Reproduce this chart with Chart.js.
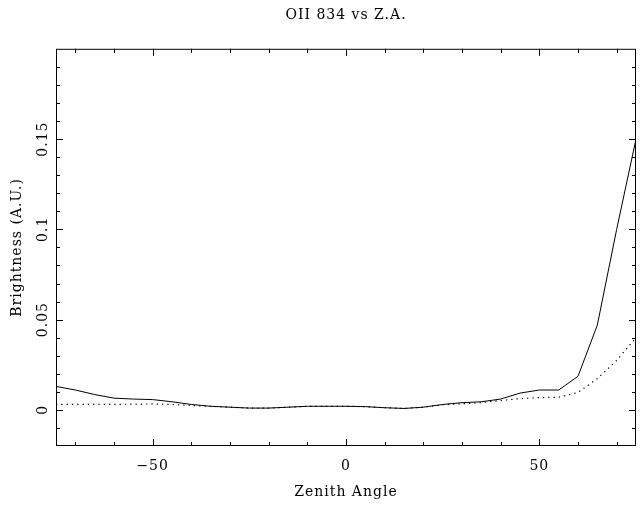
<!DOCTYPE html>
<html>
<head>
<meta charset="utf-8">
<script src="https://cdn.jsdelivr.net/npm/chart.js@4"></script>
<style>
  html, body { margin: 0; padding: 0; background: #fff; }
  #wrap { width: 640px; height: 505px; }
</style>
</head>
<body>
<div id="wrap"><canvas id="chart"></canvas></div>
<script>
const angles = [-75, -70, -65, -60, -55, -50, -45, -40, -35, -30, -25, -20, -15, -10, -5,
    0, 5, 10, 15, 20, 25, 30, 35, 40, 45, 50, 55, 60, 65, 70, 75];

const solid = [0.013, 0.011, 0.0085, 0.0065, 0.006, 0.0057, 0.0045, 0.003, 0.002, 0.0015,
    0.001, 0.001, 0.0015, 0.002, 0.002, 0.002, 0.0018, 0.0012, 0.0008, 0.0015,
    0.003, 0.004, 0.0045, 0.006, 0.0093, 0.011, 0.011, 0.0186, 0.047, 0.1, 0.15];

const dotted = [0.003, 0.003, 0.003, 0.003, 0.0032, 0.0033, 0.003, 0.0025, 0.002, 0.0015,
    0.001, 0.001, 0.0015, 0.002, 0.002, 0.002, 0.0018, 0.0012, 0.0008, 0.0015,
    0.0028, 0.0034, 0.004, 0.0052, 0.0062, 0.0068, 0.007, 0.0097, 0.0173, 0.0274, 0.04];

const xMajor = [-50, 0, 50];
const xMinor = [-70, -60, -40, -30, -20, -10, 10, 20, 30, 40, 60, 70];
const yMajor = [0, 0.05, 0.1, 0.15];
const yMinor = [-0.01, 0.01, 0.02, 0.03, 0.04, 0.06, 0.07, 0.08, 0.09, 0.11, 0.12, 0.13, 0.14, 0.16, 0.17, 0.18, 0.19];

const font = 'DejaVu Serif';

function pts(ys) {
    return angles.map((a, i) => ({ x: a, y: ys[i] }));
}

// wider text, closer to the plotter font
const spacing = {
    id: 'spacing',
    beforeDraw(chart) {
        chart.ctx.letterSpacing = '1px';
    }
};

// box + inward ticks on all four sides
const frame = {
    id: 'frame',
    afterDatasetsDraw(chart) {
        const { ctx, chartArea: a, scales: { x, y } } = chart;
        ctx.save();
        ctx.strokeStyle = '#000';
        ctx.lineWidth = 1;
        ctx.strokeRect(a.left + 0.5, a.top + 0.5, a.right - a.left - 1, a.bottom - a.top - 1);
        ctx.beginPath();
        const xt = (v, len) => {
            const px = Math.round(x.getPixelForValue(v)) + 0.5;
            ctx.moveTo(px, a.bottom); ctx.lineTo(px, a.bottom - len);
            ctx.moveTo(px, a.top); ctx.lineTo(px, a.top + len);
        };
        const yt = (v, len) => {
            const py = Math.round(y.getPixelForValue(v)) + 0.5;
            ctx.moveTo(a.left, py); ctx.lineTo(a.left + len, py);
            ctx.moveTo(a.right, py); ctx.lineTo(a.right - len, py);
        };
        xMajor.forEach(v => xt(v, 7));
        xMinor.forEach(v => xt(v, 4));
        yMajor.forEach(v => yt(v, 7));
        yMinor.forEach(v => yt(v, 4));
        ctx.stroke();
        ctx.restore();
    }
};

new Chart(document.getElementById('chart'), {
    type: 'line',
    data: {
        datasets: [
            {
                data: pts(solid),
                borderColor: '#000',
                borderWidth: 1,
                pointRadius: 0,
                tension: 0
            },
            {
                data: pts(dotted),
                borderColor: '#000',
                borderWidth: 1.2,
                borderDash: [1.3, 4],
                pointRadius: 0,
                tension: 0
            }
        ]
    },
    options: {
        responsive: true,
        maintainAspectRatio: false,
        animation: false,
        layout: { padding: { right: 4 } },
        plugins: {
            legend: { display: false },
            tooltip: { enabled: false },
            title: {
                display: true,
                fullSize: false,
                text: 'OII 834 vs Z.A.',
                color: '#000',
                font: { family: font, size: 14, weight: 'normal' },
                padding: { top: 7, bottom: 25 }
            }
        },
        scales: {
            x: {
                type: 'linear',
                min: -75,
                max: 75,
                afterBuildTicks: s => { s.ticks = xMajor.map(v => ({ value: v })); },
                afterFit: s => { s.height = 59; },
                grid: { display: false, drawTicks: false },
                border: { display: false },
                ticks: {
                    color: '#000',
                    padding: 12,
                    font: { family: font, size: 14 },
                    callback: v => v < 0 ? '\u2212' + Math.abs(v) : String(v)
                },
                title: {
                    display: true,
                    text: 'Zenith Angle',
                    color: '#000',
                    font: { family: font, size: 14 },
                    padding: { top: 6, bottom: 4 }
                }
            },
            y: {
                type: 'linear',
                min: -0.02,
                max: 0.2,
                afterBuildTicks: s => { s.ticks = yMajor.map(v => ({ value: v })); },
                afterFit: s => { s.width = 56; },
                grid: { display: false, drawTicks: false },
                border: { display: false },
                ticks: {
                    color: '#000',
                    padding: -3,
                    minRotation: 90,
                    maxRotation: 90,
                    crossAlign: 'center',
                    font: { family: font, size: 14 },
                    callback: v => String(v)
                },
                title: {
                    display: true,
                    text: 'Brightness (A.U.)',
                    color: '#000',
                    font: { family: font, size: 14 },
                    padding: { top: 9, bottom: 0 }
                }
            }
        }
    },
    plugins: [spacing, frame]
});
</script>
</body>
</html>
